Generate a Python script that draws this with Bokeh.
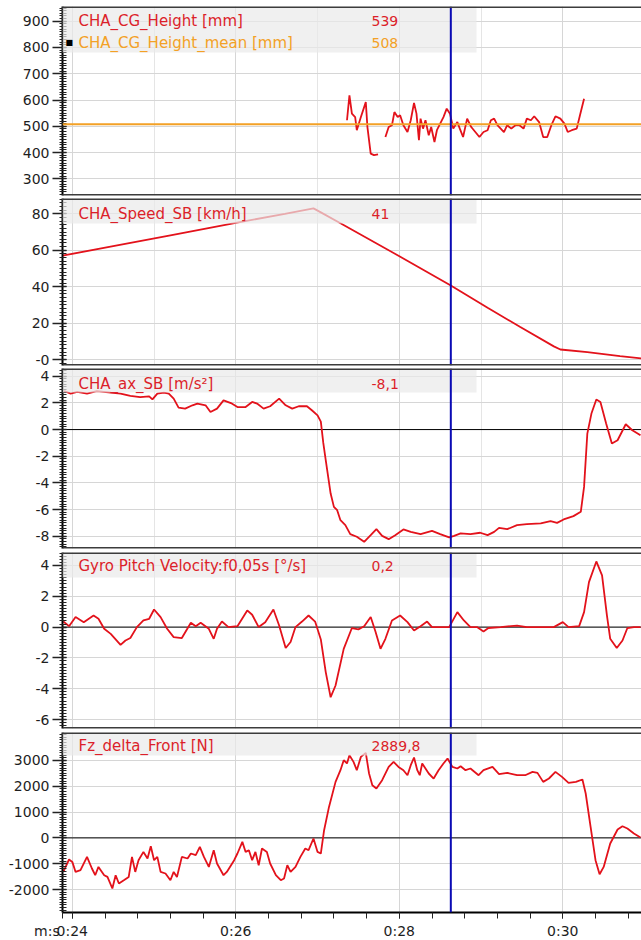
from bokeh.plotting import figure
from bokeh.layouts import column
from bokeh.models import Range1d, FixedTicker, Span, BoxAnnotation, Label, Grid
from bokeh.embed import file_html
from bokeh.resources import INLINE

NAN = float("nan")

# ---------------- data ----------------
X_MAJOR = [24, 26, 28, 30]
X_LABELS = ["0:24", "0:26", "0:28", "0:30"]
X_UNIT = "m:s"
CURSOR_T = 28.63

# CHA_CG_Height [mm]  (gap between two recorded segments)
cg_t = [27.36, 27.39, 27.42, 27.46, 27.48, 27.53, 27.59, 27.61, 27.65, 27.69, 27.74, 27.78,
        27.83, 27.87, 27.91, 27.94, 27.98, 28.01, 28.05, 28.10, 28.14, 28.18, 28.21, 28.24, 28.26,
        28.29, 28.32, 28.36, 28.39, 28.43, 28.46, 28.50, 28.54, 28.58, 28.62, 28.66, 28.71, 28.74,
        28.78, 28.83, 28.88, 28.93, 28.98, 29.03, 29.08, 29.12, 29.16, 29.20, 29.24, 29.28, 29.32,
        29.37, 29.42, 29.47, 29.52, 29.56, 29.61, 29.65, 29.71, 29.76, 29.81, 29.86, 29.91, 29.97,
        30.02, 30.06, 30.11, 30.17, 30.21, 30.26]
cg_v = [523, 618, 548, 535, 485, 535, 592, 497, 396, 390, 393, NAN,
        459, 497, 504, 554, 535, 542, 504, 478, 523, 589, 548, 447, 529,
        491, 523, 466, 497, 440, 485, 510, 535, 567, 548, 491, 516, 491,
        459, 529, 497, 478, 459, 478, 485, 523, 529, 504, 491, 478, 504,
        491, 504, 504, 491, 529, 523, 538, 516, 459, 459, 504, 538, 529,
        510, 478, 485, 491, 542, 605]
cg_mean = 508

# CHA_Speed_SB [km/h]
sp_t = [23.88, 24.5, 25.2, 26.0, 26.6, 26.95, 27.04, 27.28, 27.99, 28.63, 29.08, 29.48,
        29.89, 29.97, 30.3, 30.7, 30.96]
sp_v = [57, 62.3, 68.2, 75, 80, 83, 80.8, 74.8, 57, 40.6, 28.4, 17.8,
        7.2, 5.5, 4.0, 1.8, 0.6]

# CHA_ax_SB [m/s²]
ax_t = [23.90, 23.98, 24.06, 24.18, 24.30, 24.47, 24.59, 24.71, 24.83, 24.94,
        24.98, 25.04, 25.12, 25.18, 25.24, 25.30, 25.38, 25.47, 25.53, 25.63,
        25.69, 25.77, 25.85, 25.94, 26.02, 26.12, 26.20, 26.26, 26.34, 26.42,
        26.53, 26.61, 26.69, 26.77, 26.87, 26.93, 27.00, 27.04, 27.07, 27.10,
        27.16, 27.20, 27.24, 27.28, 27.34, 27.40, 27.48, 27.57, 27.65, 27.72,
        27.79, 27.87, 27.95, 28.05, 28.14, 28.26, 28.40, 28.50, 28.61, 28.67,
        28.75, 28.87, 28.99, 29.08, 29.16, 29.22, 29.32, 29.44, 29.56, 29.73,
        29.85, 29.93, 30.01, 30.13, 30.22, 30.26, 30.30, 30.35, 30.41, 30.46,
        30.53, 30.60, 30.67, 30.77, 30.85, 30.95]
ax_v = [2.89, 2.70, 2.82, 2.70, 2.89, 2.77, 2.70, 2.52, 2.44, 2.49,
        2.27, 2.70, 2.77, 2.70, 2.32, 1.65, 1.57, 1.82, 1.95, 1.82,
        1.32, 1.57, 2.19, 1.99, 1.69, 1.69, 2.07, 1.95, 1.57, 1.75,
        2.32, 1.82, 1.57, 1.75, 1.75, 1.45, 1.07, 0.6, -1.0, -2.3,
        -4.8, -5.8, -6.05, -6.8, -7.17, -7.84, -8.04, -8.42, -7.92, -7.47,
        -7.97, -8.22, -7.92, -7.49, -7.67, -7.84, -7.6, -7.84, -8.09, -7.97,
        -7.79, -7.84, -7.74, -7.92, -7.67, -7.37, -7.47, -7.17, -7.09, -7.04,
        -6.87, -7.0, -6.74, -6.49, -6.17, -4.3, -0.3, 1.2, 2.25, 2.07,
        0.45, -1.05, -0.8, 0.4, -0.05, -0.43]

# Gyro Pitch Velocity:f0,05s [°/s]
gy_t = [23.89, 23.96, 24.04, 24.14, 24.26, 24.32, 24.39, 24.47, 24.59, 24.65,
        24.71, 24.79, 24.87, 24.94, 25.00, 25.08, 25.16, 25.24, 25.34, 25.45,
        25.51, 25.57, 25.67, 25.73, 25.77, 25.83, 25.91, 26.02, 26.14, 26.20,
        26.28, 26.36, 26.46, 26.53, 26.61, 26.67, 26.73, 26.81, 26.89, 26.97,
        27.04, 27.10, 27.16, 27.22, 27.32, 27.42, 27.50, 27.57, 27.65, 27.71,
        27.77, 27.83, 27.91, 28.01, 28.10, 28.18, 28.26, 28.34, 28.40, 28.61,
        28.71, 28.79, 28.87, 28.95, 29.03, 29.09, 29.24, 29.44, 29.56, 29.89,
        30.00, 30.07, 30.20, 30.26, 30.32, 30.41, 30.48, 30.54, 30.58, 30.66,
        30.73, 30.79, 30.87, 30.95]
gy_v = [0.36, 0.06, 0.65, 0.32, 0.75, 0.54, -0.11, -0.44, -1.15, -0.87,
        -0.71, 0.0, 0.43, 0.54, 1.14, 0.65, -0.11, -0.65, -0.71, 0.28,
        0.06, 0.28, -0.11, -0.76, -0.11, 0.36, 0.0, 0.06, 1.08, 0.8,
        0.0, 0.32, 1.14, 0.1, -1.36, -0.97, 0.0, 0.36, 0.75, 0.36,
        -0.8, -2.92, -4.55, -3.79, -1.41, -0.06, -0.15, 0.06, 0.65, -0.32,
        -1.41, -0.76, 0.43, 0.75, 0.32, -0.22, 0.06, 0.36, 0.0, 0.0,
        0.97, 0.43, 0.0, 0.0, -0.28, -0.06, 0.0, 0.1, 0.0, 0.0,
        0.32, 0.0, 0.06, 0.97, 2.92, 4.26, 3.35, 0.75, -0.76, -1.36,
        -0.87, -0.06, 0.0, 0.0]

# Fz_delta_Front [N]
fz_t = [23.89, 23.96, 24.00, 24.04, 24.10, 24.18, 24.24, 24.28, 24.32, 24.39,
        24.43, 24.49, 24.53, 24.57, 24.63, 24.69, 24.73, 24.77, 24.81, 24.87,
        24.92, 24.96, 25.00, 25.04, 25.08, 25.14, 25.20, 25.24, 25.28, 25.34,
        25.41, 25.45, 25.51, 25.56, 25.61, 25.67, 25.73, 25.77, 25.85, 25.89,
        25.98, 26.02, 26.08, 26.12, 26.16, 26.20, 26.24, 26.28, 26.32, 26.38,
        26.42, 26.49, 26.55, 26.59, 26.63, 26.67, 26.73, 26.79, 26.85, 26.89,
        26.95, 27.00, 27.04, 27.08, 27.14, 27.22, 27.28, 27.32, 27.36, 27.39,
        27.44, 27.48, 27.53, 27.59, 27.63, 27.67, 27.72, 27.79, 27.87, 27.93,
        27.99, 28.05, 28.10, 28.14, 28.18, 28.22, 28.25, 28.28, 28.32, 28.36,
        28.42, 28.48, 28.54, 28.59, 28.65, 28.71, 28.75, 28.81, 28.87, 28.97,
        29.03, 29.14, 29.22, 29.32, 29.44, 29.54, 29.63, 29.69, 29.76, 29.83,
        29.91, 29.99, 30.07, 30.16, 30.24, 30.28, 30.34, 30.40, 30.45, 30.50,
        30.58, 30.67, 30.73, 30.79, 30.87, 30.95]
fz_v = [-1318, -837, -930, -1318, -1252, -736, -1186, -1446, -1124, -1446,
        -1512, -1961, -1446, -1767, -1640, -1512, -736, -1318, -864, -543,
        -798, -322, -864, -736, -1318, -1380, -1640, -1318, -1512, -736,
        -798, -605, -671, -349, -736, -1124, -477, -992, -1446, -1318,
        -864, -605, -155, -543, -477, -864, -543, -1058, -411, -543,
        -992, -1446, -1640, -1574, -1058, -1318, -1124, -736, -411, -477,
        -23, -543, -605, 298, 1201, 2171, 2624, 3011, 2884, 3205,
        2946, 2624, 3140, 3295, 2496, 2043, 1915, 2236, 2752, 2946,
        2752, 2624, 2430, 2818, 3116, 2624, 2430, 2884, 2690, 2496,
        2302, 2624, 2884, 3078, 2752, 2690, 2779, 2624, 2690, 2430,
        2624, 2752, 2469, 2520, 2430, 2430, 2558, 2520, 2171, 2302,
        2558, 2364, 2132, 2171, 2264, 1721, 426, -864, -1407, -1124,
        -217, 326, 453, 364, 171, 16]

# channel names and cursor read-outs
NAMES = ["CHA_CG_Height [mm]", "CHA_Speed_SB [km/h]", "CHA_ax_SB [m/s\u00b2]",
         "Gyro Pitch Velocity:f0,05s [\u00b0/s]", "Fz_delta_Front [N]"]
MEAN_NAME = "CHA_CG_Height_mean [mm]"
READOUTS = ["539", "41", "-8,1", "0,2", "2889,8"]
MEAN_READOUT = "508"

# ---------------- style ----------------
RED = "#e3121b"
TXT_RED = "#dc1f2a"
ORANGE = "#f3a126"
BLUE = "#0a0ab4"
GRID = "#d6d6d6"
EDGE = "#3c3c3c"
FONT = "DejaVu Sans"
FRAME_W = 579
LEFT = 62
X0, X1 = 23.88, 23.88 + FRAME_W / 81.75
BAND_RIGHT_PX = 414
VALUE_PX = 309

xr = Range1d(X0, X1)

panels = [
    dict(t=cg_t, v=cg_v, y=(236.4, 956.0), ticks=[300, 400, 500, 600, 700, 800, 900], step=100,
         fh=189, bt=6, bb=1, band=46, lab=14, zero=False, minus0=False),
    dict(t=sp_t, v=sp_v, y=(-3.29, 88.4), ticks=[0, 20, 40, 60, 80], step=20,
         fh=167, bt=2, bb=3, band=25, lab=15, zero=False, minus0=True),
    dict(t=ax_t, v=ax_v, y=(-8.92, 4.58), ticks=[-8, -6, -4, -2, 0, 2, 4], step=2,
         fh=180, bt=0, bb=1, band=24, lab=15, zero=True, minus0=False),
    dict(t=gy_t, v=gy_v, y=(-6.58, 4.84), ticks=[-6, -4, -2, 0, 2, 4], step=2,
         fh=176, bt=3, bb=1, band=25, lab=13, zero=True, minus0=False),
    dict(t=fz_t, v=fz_v, y=(-2891, 4085), ticks=[-2000, -1000, 0, 1000, 2000, 3000], step=1000,
         fh=180, bt=3, bb=27, band=23, lab=13, zero=True, minus0=False),
]

figs = []
for i, cfg in enumerate(panels):
    last = i == len(panels) - 1
    y0, y1 = cfg["y"]
    p = figure(x_range=xr, y_range=Range1d(y0, y1), frame_width=FRAME_W, frame_height=cfg["fh"],
               min_border_left=LEFT, min_border_right=0, min_border_top=cfg["bt"],
               min_border_bottom=cfg["bb"], output_backend="svg", toolbar_location=None,
               x_axis_location="below" if last else None)
    p.background_fill_color = "white"
    p.border_fill_color = "white"
    p.outline_line_color = None

    step = cfg["step"]
    minor = [cfg["ticks"][0] - step + k * step / 10 for k in range(10 * (len(cfg["ticks"]) + 1) + 1)]
    ya = p.yaxis[0]
    ya.ticker = FixedTicker(ticks=cfg["ticks"], minor_ticks=minor)
    labels = {t: str(t) for t in cfg["ticks"]}
    if cfg["minus0"]:
        labels[0] = "-0"
    ya.major_label_overrides = labels
    ya.axis_line_color = "black"
    ya.axis_line_width = 2
    ya.major_tick_out = 10
    ya.major_tick_in = 4
    ya.major_tick_line_width = 1.5
    ya.major_tick_line_color = "#222222"
    ya.minor_tick_in = 4
    ya.minor_tick_out = 3
    ya.minor_tick_line_color = "#222222"
    ya.major_label_standoff = 3
    ya.major_label_text_font = FONT
    ya.major_label_text_font_size = "14px"
    ya.major_label_text_color = "#1e1e1e"
    p.ygrid.grid_line_color = GRID

    if last:
        xa = p.xaxis[0]
        xminor = [round(23.6 + 0.4 * k, 1) for k in range(20)]
        xa.ticker = FixedTicker(ticks=[X0] + X_MAJOR, minor_ticks=xminor)
        xl = {t: s for t, s in zip(X_MAJOR, X_LABELS)}
        xl[X0] = X_UNIT + "\u00a0" * 7
        xa.major_label_overrides = xl
        xa.axis_line_color = "black"
        xa.axis_line_width = 2
        xa.major_tick_out = 6
        xa.major_tick_in = 0
        xa.minor_tick_out = 6
        xa.minor_tick_in = 0
        xa.major_tick_line_color = "#222222"
        xa.minor_tick_line_color = "#222222"
        xa.major_label_standoff = 4
        xa.major_label_text_font = FONT
        xa.major_label_text_font_size = "14px"
        xa.major_label_text_color = "#1e1e1e"
        p.xgrid.ticker = FixedTicker(ticks=X_MAJOR)
        p.xgrid.grid_line_color = GRID
    else:
        p.add_layout(Grid(dimension=0, ticker=FixedTicker(ticks=X_MAJOR), grid_line_color=GRID))

    if cfg["zero"]:
        p.add_layout(Span(location=0, dimension="width", line_color="black", line_width=1,
                          level="underlay"))

    p.line(cfg["t"], cfg["v"], line_color=RED, line_width=1.8)

    if i == 0:
        p.add_layout(Span(location=cg_mean, dimension="width", line_color=ORANGE, line_width=2))

    # header band (semi-transparent, drawn over the traces)
    ypp = (y1 - y0) / cfg["fh"]
    p.add_layout(BoxAnnotation(left=X0, right=X0 + BAND_RIGHT_PX * (X1 - X0) / FRAME_W,
                               top=y1, bottom=y1 - cfg["band"] * ypp,
                               fill_color="#e9e9e9", fill_alpha=0.7, line_color=None))

    p.add_layout(Span(location=CURSOR_T, dimension="height", line_color=BLUE, line_width=2))

    # panel top / bottom edges
    p.add_layout(Span(location=y1, dimension="width", line_color=EDGE, line_width=3))
    if not last:
        p.add_layout(Span(location=y0, dimension="width", line_color=EDGE, line_width=3))

    lab = cfg["lab"]
    p.add_layout(Label(x=X0, y=y1, x_offset=16, y_offset=-lab, text=NAMES[i],
                       text_baseline="middle", text_font=FONT, text_font_size="15px",
                       text_color=TXT_RED))
    p.add_layout(Label(x=X0, y=y1, x_offset=VALUE_PX, y_offset=-lab, text=READOUTS[i],
                       text_baseline="middle", text_font=FONT, text_font_size="14px",
                       text_color=TXT_RED))
    if i == 0:
        p.add_layout(Label(x=X0, y=y1, x_offset=16, y_offset=-(lab + 22), text=MEAN_NAME,
                           text_baseline="middle", text_font=FONT, text_font_size="15px",
                           text_color=ORANGE))
        p.add_layout(Label(x=X0, y=y1, x_offset=VALUE_PX, y_offset=-(lab + 22), text=MEAN_READOUT,
                           text_baseline="middle", text_font=FONT, text_font_size="14px",
                           text_color=ORANGE))
        p.add_layout(Label(x=X0, y=y1, x_offset=3, y_offset=-(lab + 22), text="\u25a0",
                           text_baseline="middle", text_font=FONT, text_font_size="8px",
                           text_color="black"))
    figs.append(p)

layout = column(*figs, spacing=0)
open("out.html", "w").write(file_html(layout, INLINE))
